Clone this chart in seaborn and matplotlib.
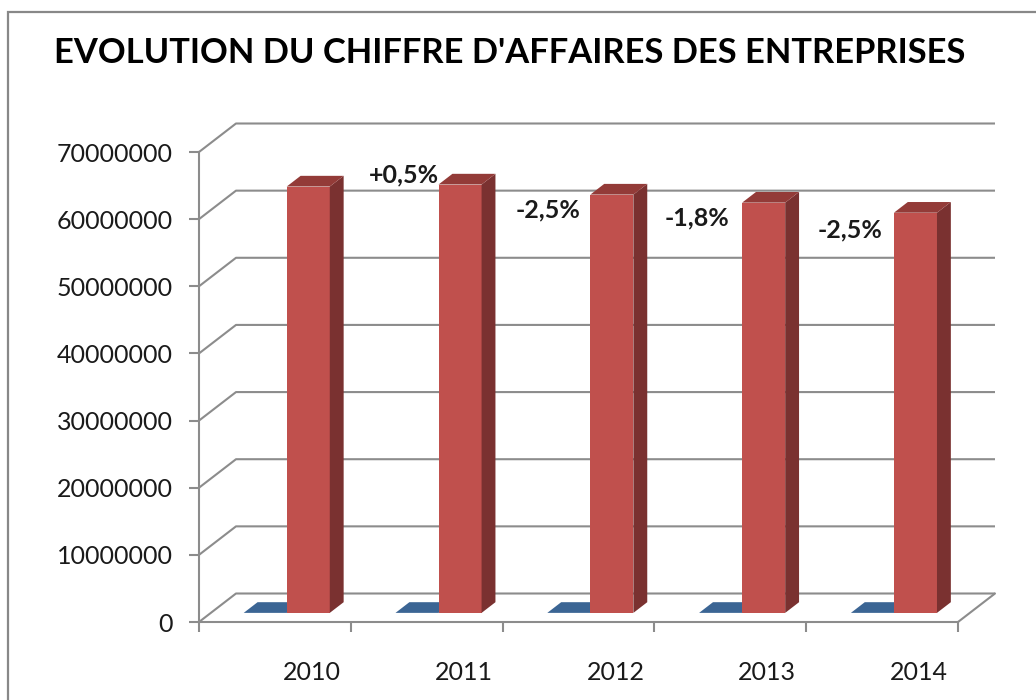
import numpy as np
import pandas as pd
import matplotlib
matplotlib.use("Agg")
import matplotlib.pyplot as plt
import matplotlib.transforms as mtransforms
from matplotlib.patches import Polygon, Rectangle
import seaborn as sns

# ---------------- data ----------------
years = ["2010", "2011", "2012", "2013", "2014"]
chiffre_affaires = [63500000, 63800000, 62300000, 61100000, 59600000]
serie_bleue = [0, 0, 0, 0, 0]
evolution = ["+0,5%", "-2,5%", "-1,8%", "-2,5%"]
y_ticks = [0, 10000000, 20000000, 30000000, 40000000, 50000000, 60000000, 70000000]
title = "EVOLUTION DU CHIFFRE D'AFFAIRES DES ENTREPRISES"

# ---------------- style ----------------
W, H, DPI = 1036, 700, 100
sns.set_theme(style="white")
plt.rcParams['font.family'] = ['Lato', 'DejaVu Sans']

GRID = "#8c8c8c"
TXT = "#1a1a1a"
BLUE, BLUE_TOP, BLUE_SIDE = "#4F81BD", "#3B6594", "#2E5078"
RED, RED_TOP, RED_SIDE = "#C0504D", "#933B38", "#7A3130"
LW = 1.5

fig = plt.figure(figsize=(W / DPI, H / DPI), dpi=DPI)
fig.patch.set_facecolor("white")

# pixel geometry of the pseudo-3D box
x0_px, x5_px = 199, 958
y0_px, y70_px = 622, 152
dpx, dpy = 37.0, 28.5          # depth offset of the back wall (px)
cat_px = (x5_px - x0_px) / 5
val_px = (y0_px - y70_px) / 70e6
DX = dpx / cat_px               # depth offset in data units
DY = dpy / val_px
XMAX = 5 + DX
YMAX = 70e6 + DY

ax = fig.add_axes([x0_px / W, 1 - y0_px / H,
                   (x5_px + dpx - x0_px) / W, (y0_px - y70_px + dpy) / H])
ax.set_facecolor("none")

# ---------------- bars (seaborn) ----------------
n = len(years)
df = pd.DataFrame({
    "pos": np.concatenate([np.arange(n) + 0.5, np.arange(n) + 0.5]),
    "valeur": serie_bleue + chiffre_affaires,
    "serie": ["bleu"] * n + ["rouge"] * n,
})
sns.barplot(data=df, x="pos", y="valeur", hue="serie", native_scale=True,
            width=0.567, dodge=True, palette=[BLUE, RED], saturation=1,
            errorbar=None, legend=False, linewidth=0, ax=ax)

FRONT = 0.32     # depth position of bar front faces
BDEPTH = 0.375   # bar depth as fraction of box depth
fx, fy = FRONT * DX, FRONT * DY
bx, by = BDEPTH * DX, BDEPTH * DY
shift = mtransforms.Affine2D().translate(fx, fy) + ax.transData

bars = [p for p in ax.patches]
for p in bars:
    x, w, h = p.get_x(), p.get_width(), p.get_height()
    is_red = x >= np.floor(x) + 0.5 - 1e-9 and (x - np.floor(x)) >= 0.5 - 1e-9
    top_c, side_c = (RED_TOP, RED_SIDE) if is_red else (BLUE_TOP, BLUE_SIDE)
    z = 3 if is_red else 2
    p.set_transform(shift)
    p.set_zorder(z)
    p.set_clip_on(False)
    xl, xr = x + fx, x + w + fx
    yb, yt = fy, h + fy
    side = Polygon([(xr, yb), (xr + bx, yb + by), (xr + bx, yt + by), (xr, yt)],
                   closed=True, facecolor=side_c, edgecolor="none", zorder=z, clip_on=False)
    top = Polygon([(xl, yt), (xl + bx, yt + by), (xr + bx, yt + by), (xr, yt)],
                  closed=True, facecolor=top_c, edgecolor="none", zorder=z, clip_on=False)
    ax.add_patch(side)
    ax.add_patch(top)

# ---------------- walls / gridlines ----------------
for v in y_ticks:
    ax.plot([0, DX, XMAX], [v, v + DY, v + DY], color=GRID, lw=LW,
            zorder=0.5, clip_on=False, solid_capstyle="butt")
ax.plot([5, XMAX], [0, DY], color=GRID, lw=LW, zorder=0.5, clip_on=False)

ax.set_xlim(0, XMAX)
ax.set_ylim(0, YMAX)
for s in ["top", "right"]:
    ax.spines[s].set_visible(False)
for s in ["left", "bottom"]:
    ax.spines[s].set_color(GRID)
    ax.spines[s].set_linewidth(LW)
ax.spines["left"].set_bounds(0, 70e6)
ax.spines["bottom"].set_bounds(0, 5)

ax.set_yticks(y_ticks)
ax.set_yticklabels([str(v) for v in y_ticks])
ax.tick_params(axis="y", direction="out", length=7.2, width=LW, color=GRID,
               labelsize=18, labelcolor=TXT, pad=11.5, left=True)

ax.set_xticks(np.arange(n) + 0.5 + DX)
ax.set_xticklabels(years)
ax.set_xticks(np.arange(n + 1), minor=True)
ax.tick_params(axis="x", which="major", length=0, labelsize=18, labelcolor=TXT, pad=28)
ax.tick_params(axis="x", which="minor", direction="out", length=7.2, width=LW,
               color=GRID, bottom=True)
ax.set_xlabel("")
ax.set_ylabel("")

# ---------------- evolution labels ----------------
label_dx = [-0.15, -0.20, -0.22, -0.21]
label_dy = [2.8e6, -0.9e6, -0.9e6, -1.2e6]
for i, s in enumerate(evolution):
    k = i + 1
    ax.text(k + 0.5 + label_dx[i], chiffre_affaires[k] + label_dy[i], s,
            ha="center", va="center", fontsize=18, fontweight="bold",
            color=TXT, zorder=5, clip_on=False)

# ---------------- title & frame ----------------
t = fig.text(510 / W, 1 - 63 / H, title, ha="center", va="baseline",
             fontsize=26, fontweight="bold", color="black")
r = fig.canvas.get_renderer()
wpx = t.get_window_extent(r).width
t.set_fontsize(26 * 911 / wpx)

fig.patches.append(Rectangle((8 / W, -0.2), 1.5, 1.2 - 12 / H, transform=fig.transFigure,
                             fill=False, edgecolor="#888888", lw=1.6))

fig.savefig("out.png", dpi=DPI, facecolor="white")
